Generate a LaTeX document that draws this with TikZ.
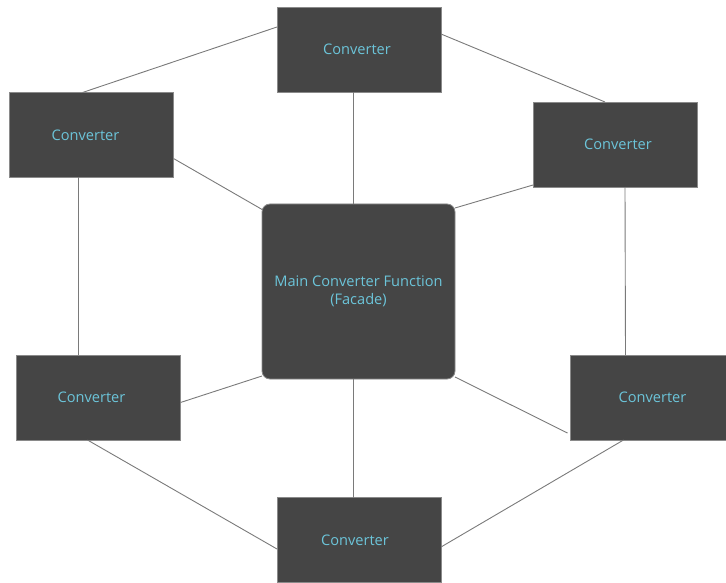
\documentclass[tikz,border=0pt]{standalone}
\usepackage{fontspec}
\setmainfont{Open Sans}
\definecolor{boxfill}{HTML}{454545}
\definecolor{boxline}{HTML}{8A8A8A}
\definecolor{txt}{HTML}{6CC5DA}
\definecolor{conn}{HTML}{7A7A7A}
\begin{document}
\begin{tikzpicture}[x=1pt,y=-1pt,
  conv/.style={fill=boxfill,draw=boxline,line width=0.8pt,inner sep=0pt,outer sep=0pt,
    minimum width=164pt,minimum height=85pt,text=txt,font=\fontsize{14.6}{18}\selectfont},
  mainbox/.style={conv,minimum width=193pt,minimum height=175pt,rounded corners=8pt,align=center},
  link/.style={draw=conn,line width=0.9pt}]
\useasboundingbox (0,0) rectangle (726,583);
\node[conv] (T)  at (359,49.5) {\hspace*{-4pt}Converter};
\node[conv] (TL) at (91.5,135) {\hspace*{-12pt}Converter};
\node[conv] (TR) at (615,144.5) {\hspace*{6pt}Converter};
\node[conv] (BL) at (98.5,397.5) {\hspace*{-14pt}Converter};
\node[conv] (BR) at (652.5,397.5) {Converter};
\node[conv] (B)  at (359,540) {\hspace*{-8pt}Converter};
\node[mainbox] (M) at (358.5,291.5) {Main Converter Function\\(Facade)};
\draw[link] ([shift={(73,0)}]TL.north west) -- ([shift={(0,20)}]T.north west);
\draw[link] ([shift={(0,27)}]T.north east) -- ([shift={(72,0)}]TR.north west);
\draw[link] ([shift={(-6,0)}]T.south) -- ([shift={(-5.5,0)}]M.north);
\draw[link] ([shift={(0,66)}]TL.north east) -- ([shift={(1,6)}]M.north west);
\draw[link] ([shift={(69,0)}]TL.south west) -- ([shift={(62,0)}]BL.north west);
\draw[link] ([shift={(0,-2)}]TR.south west) -- ([shift={(0,4)}]M.north east);
\draw[link] ([shift={(92,0)}]TR.south west) -- ([shift={(55,0)}]BR.north west);
\draw[link] ([shift={(0,5)}]BL.east) -- ([shift={(0,-3)}]M.south west);
\draw[link] ([shift={(0,-2)}]M.south east) -- ([shift={(-3,78)}]BR.north west);
\draw[link] ([shift={(71,0)}]BL.south west) -- ([shift={(0,9)}]B.west);
\draw[link] ([shift={(53,0)}]BR.south west) -- ([shift={(0,7)}]B.east);
\draw[link] ([shift={(-5.5,0)}]M.south) -- ([shift={(-6,0)}]B.north);
\end{tikzpicture}
\end{document}
